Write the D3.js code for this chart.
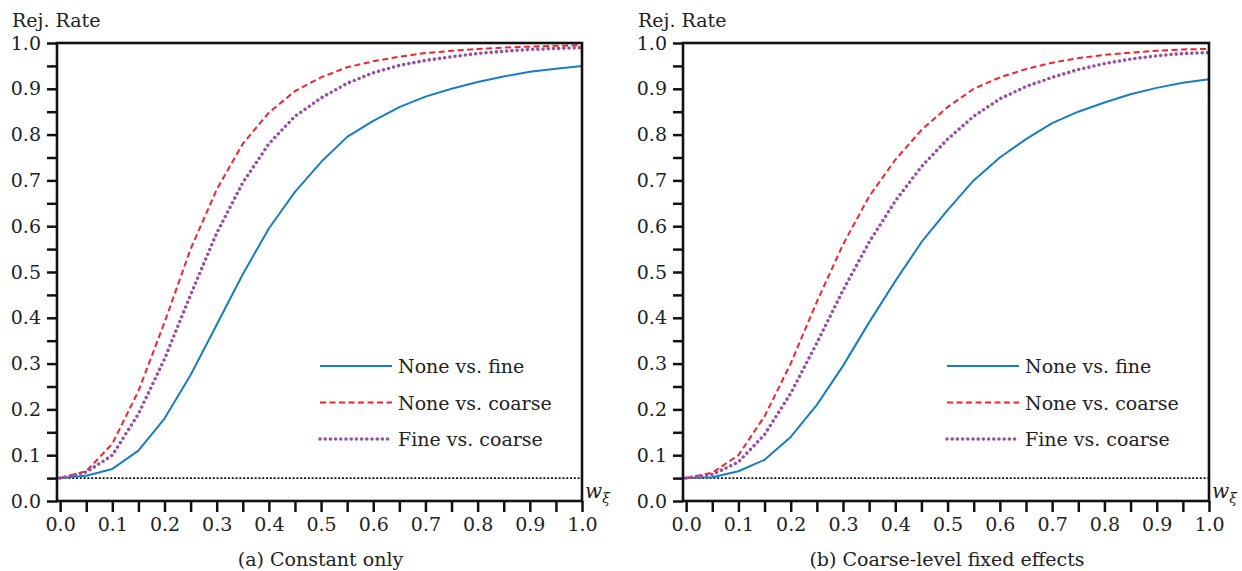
<!DOCTYPE html>
<html>
<head>
<meta charset="utf-8">
<script src="https://d3js.org/d3.v7.min.js"></script>
<style>
  body { margin: 0; background: #fff; }
  svg text { font-family: "DejaVu Serif"; fill: #222; }
</style>
</head>
<body>
<script>
// x grid (w_xi) shared by both panels
const wValues = [0, 0.05, 0.1, 0.15, 0.2, 0.25, 0.3, 0.35, 0.4, 0.45, 0.5,
                 0.55, 0.6, 0.65, 0.7, 0.75, 0.8, 0.85, 0.9, 0.95, 1.0];

// Panel (a) Constant only
const aNoneFine   = [0.05, 0.055, 0.07, 0.11, 0.18, 0.275, 0.385, 0.495, 0.595, 0.675, 0.74,
                     0.795, 0.83, 0.86, 0.883, 0.9, 0.915, 0.927, 0.937, 0.944, 0.95];
const aNoneCoarse = [0.05, 0.065, 0.125, 0.24, 0.39, 0.55, 0.68, 0.78, 0.848, 0.895, 0.925,
                     0.947, 0.96, 0.97, 0.978, 0.983, 0.987, 0.99, 0.992, 0.994, 0.995];
const aFineCoarse = [0.05, 0.063, 0.1, 0.19, 0.31, 0.45, 0.585, 0.695, 0.78, 0.84, 0.88,
                     0.912, 0.935, 0.951, 0.962, 0.97, 0.977, 0.982, 0.986, 0.988, 0.99];

// Panel (b) Coarse-level fixed effects
const bNoneFine   = [0.05, 0.052, 0.065, 0.09, 0.14, 0.21, 0.295, 0.39, 0.48, 0.565, 0.635,
                     0.7, 0.75, 0.79, 0.825, 0.85, 0.87, 0.888, 0.902, 0.913, 0.921];
const bNoneCoarse = [0.05, 0.062, 0.1, 0.185, 0.3, 0.435, 0.56, 0.665, 0.745, 0.81, 0.86,
                     0.9, 0.925, 0.943, 0.957, 0.967, 0.974, 0.979, 0.983, 0.986, 0.987];
const bFineCoarse = [0.05, 0.058, 0.085, 0.145, 0.235, 0.345, 0.46, 0.565, 0.655, 0.73, 0.79,
                     0.84, 0.878, 0.905, 0.925, 0.942, 0.955, 0.965, 0.972, 0.977, 0.979];

const seriesNames = ["None vs. fine", "None vs. coarse", "Fine vs. coarse"];
const nominalLevel = 0.05;
const xTickLabels = [0, 0.1, 0.2, 0.3, 0.4, 0.5, 0.6, 0.7, 0.8, 0.9, 1.0];
const yTickLabels = [0, 0.1, 0.2, 0.3, 0.4, 0.5, 0.6, 0.7, 0.8, 0.9, 1.0];

const FONT = "'DejaVu Serif'";

const lineStyles = [
  { color: "#1a7cc1", width: 2, dash: null, cap: "butt" },
  { color: "#f2232a", width: 2, dash: "6,3.5", cap: "butt" },
  { color: "#984ea3", width: 3.6, dash: "0,5.2", cap: "round" }
];

const svg = d3.select("body").append("svg")
  .attr("width", 1242)
  .attr("height", 571);

const drawPanel = (opts) => {
  const { left, right, top, bottom, series, caption, legendX } = opts;

  const x = d3.scaleLinear().domain([-0.006, 1]).range([left, right]);
  const y = d3.scaleLinear().domain([0, 1]).range([bottom, top]);

  const g = svg.append("g");

  // y-axis title
  g.append("text")
    .attr("x", left - 45)
    .attr("y", 27)
    .style("font-family", FONT)
    .style("font-size", "19px")
    .text("Rej. Rate");

  // minor + major ticks every 0.05
  const tickVals = d3.range(0, 1.0001, 0.05);

  const xAxis = d3.axisBottom(x)
    .tickValues(tickVals)
    .tickSize(11)
    .tickPadding(6)
    .tickFormat(d => xTickLabels.some(v => Math.abs(v - d) < 1e-6) ? d3.format(".1f")(d) : "");

  const yAxis = d3.axisLeft(y)
    .tickValues(tickVals)
    .tickSize(10)
    .tickPadding(6)
    .tickFormat(d => yTickLabels.some(v => Math.abs(v - d) < 1e-6) ? d3.format(".1f")(d) : "");

  const gx = g.append("g")
    .attr("transform", `translate(0,${bottom})`)
    .call(xAxis);
  const gy = g.append("g")
    .attr("transform", `translate(${left},0)`)
    .call(yAxis);

  [gx, gy].forEach(a => {
    a.attr("font-family", null);
    a.select(".domain").remove();
    a.selectAll(".tick line").attr("stroke", "#111").attr("stroke-width", 2.5);
    a.selectAll(".tick text")
      .style("font-family", FONT)
      .style("font-size", "19px")
      .attr("fill", "#222");
  });

  // nominal level reference
  g.append("line")
    .attr("x1", left).attr("x2", right)
    .attr("y1", y(nominalLevel)).attr("y2", y(nominalLevel))
    .attr("stroke", "#111")
    .attr("stroke-width", 1.6)
    .attr("stroke-dasharray", "2,1.8");

  const line = d3.line()
    .x((d, i) => x(wValues[i]))
    .y(d => y(d));

  series.forEach((vals, i) => {
    const s = lineStyles[i];
    g.append("path")
      .datum(vals)
      .attr("fill", "none")
      .attr("stroke", s.color)
      .attr("stroke-width", s.width)
      .attr("stroke-linecap", s.cap)
      .attr("stroke-linejoin", "round")
      .attr("stroke-dasharray", s.dash)
      .attr("d", line);
  });

  // frame
  g.append("rect")
    .attr("x", left).attr("y", top)
    .attr("width", right - left).attr("height", bottom - top)
    .attr("fill", "none")
    .attr("stroke", "#111")
    .attr("stroke-width", 2.6);

  // x-axis label
  g.append("text")
    .attr("x", right + 3)
    .attr("y", bottom - 3)
    .style("font-family", FONT)
    .style("font-size", "20px")
    .style("font-style", "italic")
    .text("w")
    .append("tspan")
    .attr("dy", 5)
    .style("font-size", "14px")
    .text("ξ");

  // legend
  seriesNames.forEach((name, i) => {
    const s = lineStyles[i];
    const ly = 366 + i * 36.5;
    g.append("line")
      .attr("x1", legendX).attr("x2", legendX + 72)
      .attr("y1", ly).attr("y2", ly)
      .attr("stroke", s.color)
      .attr("stroke-width", s.width)
      .attr("stroke-linecap", s.cap)
      .attr("stroke-dasharray", s.dash);
    g.append("text")
      .attr("x", legendX + 78)
      .attr("y", ly + 7)
      .style("font-family", FONT)
      .style("font-size", "19px")
      .text(name);
  });

  // caption
  g.append("text")
    .attr("x", (left + right) / 2 + 1)
    .attr("y", 566)
    .attr("text-anchor", "middle")
    .style("font-family", FONT)
    .style("font-size", "19px")
    .text(caption);
};

drawPanel({
  left: 57, right: 582, top: 43, bottom: 501,
  series: [aNoneFine, aNoneCoarse, aFineCoarse],
  caption: "(a) Constant only",
  legendX: 320
});

drawPanel({
  left: 683, right: 1209, top: 43, bottom: 501,
  series: [bNoneFine, bNoneCoarse, bFineCoarse],
  caption: "(b) Coarse-level fixed effects",
  legendX: 947
});
</script>
</body>
</html>
